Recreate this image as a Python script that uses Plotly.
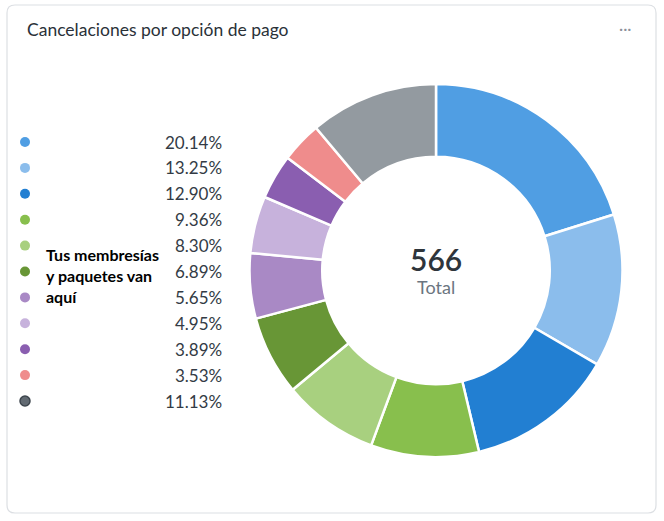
import plotly.graph_objects as go

title = "Cancelaciones por opción de pago"
categories = ["Opción 1", "Opción 2", "Opción 3", "Opción 4", "Opción 5", "Opción 6",
              "Opción 7", "Opción 8", "Opción 9", "Opción 10", "Otros"]
counts = [114, 75, 73, 53, 47, 39, 32, 28, 22, 20, 63]
colors = ["#509EE3", "#8BBDEC", "#227FD2", "#88BF4D", "#A8D07F", "#689636",
          "#A989C5", "#C7B2DC", "#8A5EB0", "#EF8C8C", "#939AA0"]
overlay = "Tus membresías<br>y paquetes van<br>aquí"

total = sum(counts)
pcts = ["%.2f%%" % (100.0 * c / total) for c in counts]

W, H = 664, 521
FONT = "Lato"

fig = go.Figure()

# donut
fig.add_trace(go.Pie(
    labels=categories,
    values=counts,
    marker=dict(colors=colors, line=dict(color="white", width=2.5)),
    hole=0.61,
    sort=False,
    direction="clockwise",
    rotation=0,
    textinfo="none",
    hoverinfo="label+value+percent",
    showlegend=False,
    domain=dict(x=[(436 - 186.5) / W, (436 + 186.5) / W],
                y=[(H - 270.5 - 186.5) / H, (H - 270.5 + 186.5) / H]),
))

# legend dots on a hidden pixel axis
row_y = [142 + i * 25.9 for i in range(len(counts))]
dot_colors = colors[:-1] + ["#626A72"]
fig.add_trace(go.Scatter(
    x=[25] * len(counts), y=row_y,
    mode="markers",
    marker=dict(size=10, color=dot_colors,
                line=dict(width=[0] * (len(counts) - 1) + [1.5], color="#3d454d")),
    hoverinfo="skip", showlegend=False,
))

fig.update_xaxes(range=[0, W], visible=False, fixedrange=True)
fig.update_yaxes(range=[H, 0], visible=False, fixedrange=True)

ann = []
for y, p in zip(row_y, pcts):
    ann.append(dict(x=224, y=y, text=p, showarrow=False, xanchor="right", yanchor="middle",
                    font=dict(family=FONT, size=17, color="#333b45")))

ann += [
    dict(x=25, y=29, text=title, showarrow=False, xanchor="left", yanchor="middle",
         font=dict(family=FONT, size=17.5, color="#2a3138")),
    dict(x=625, y=27, text="···", showarrow=False, xanchor="center", yanchor="middle",
         font=dict(family=FONT, size=16, color="#8a9099")),
    dict(x=436, y=259, text=str(total), showarrow=False, xanchor="center", yanchor="middle",
         font=dict(family=FONT, size=30, color="#2e353b", weight=600)),
    dict(x=436, y=287, text="Total", showarrow=False, xanchor="center", yanchor="middle",
         font=dict(family=FONT, size=18, color="#6b7580")),
    dict(x=44, y=275, text="<b>" + overlay + "</b>", showarrow=False, xanchor="left",
         yanchor="middle", align="left",
         font=dict(family=FONT, size=16, color="#000000")),
]

# card outline with rounded corners
x0, x1, y0, y1, r = 7, 656, 5, 513, 8
card = (f"M {x0+r},{y0} L {x1-r},{y0} Q {x1},{y0} {x1},{y0+r} "
        f"L {x1},{y1-r} Q {x1},{y1} {x1-r},{y1} L {x0+r},{y1} "
        f"Q {x0},{y1} {x0},{y1-r} L {x0},{y0+r} Q {x0},{y0} {x0+r},{y0} Z")

fig.update_layout(
    width=W, height=H,
    margin=dict(l=0, r=0, t=0, b=0),
    paper_bgcolor="white", plot_bgcolor="white",
    annotations=ann,
    shapes=[dict(type="path", path=card, xref="x", yref="y",
                 line=dict(color="#dcdfe3", width=1.2), layer="below")],
    font=dict(family=FONT),
)

fig.write_html("out.html", config={"displayModeBar": False},
               post_script="document.body.style.margin='0';")
